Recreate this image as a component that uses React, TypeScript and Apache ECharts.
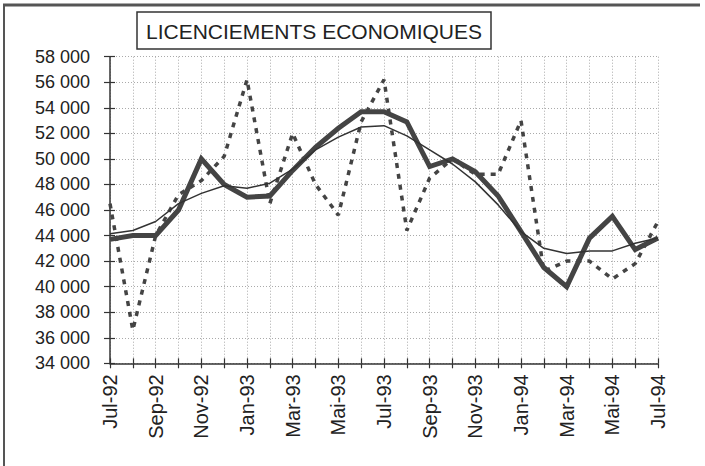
import React, { useEffect, useRef } from "react";
import * as echarts from "echarts";

const months = [
  "Jul-92", "Aoû-92", "Sep-92", "Oct-92", "Nov-92", "Déc-92",
  "Jan-93", "Fév-93", "Mar-93", "Avr-93", "Mai-93", "Jun-93",
  "Jul-93", "Aoû-93", "Sep-93", "Oct-93", "Nov-93", "Déc-93",
  "Jan-94", "Fév-94", "Mar-94", "Avr-94", "Mai-94", "Jun-94", "Jul-94",
];

// Raw monthly values (dotted)
const brut = [
  46500, 36600, 44000, 47200, 48300, 50200, 56200, 46500, 52000, 48000, 45600, 52900,
  56200, 44400, 48500, 50000, 48800, 48800, 53000, 41200, 42000, 42000, 40600, 41800, 45100,
];

// Smoothed values (thick)
const lisse = [
  43700, 44000, 44000, 46000, 50000, 48000, 47000, 47100, 49100, 50900, 52400, 53700,
  53700, 52900, 49400, 50000, 49000, 47100, 44300, 41500, 40000, 43800, 45500, 42900, 43800,
];

// Trend (thin)
const tendance = [
  44150, 44400, 45100, 46500, 47300, 47900, 47700, 48100, 49200, 50700, 51700, 52500,
  52600, 51800, 50700, 49600, 48200, 46400, 44300, 43000, 42600, 42800, 42800, 43400, 43800,
];

const titleText = "LICENCIEMENTS ECONOMIQUES";
const yMin = 34000;
const yMax = 58000;
const yStep = 2000;

const FONT = "'Liberation Sans', Arial, sans-serif";
const INK = "#222";
const LINE = "#444";

export default function App() {
  const ref = useRef<HTMLDivElement>(null);

  useEffect(() => {
    if (!ref.current) return;
    const chart = echarts.init(ref.current, null, { renderer: "svg" });
    const fmt = (v: number) => `${Math.round(v / 1000)} 000`;
    const gridLine = { show: true, lineStyle: { color: "#aaa", type: [1, 2] as any, width: 1 } };

    chart.setOption({
      animation: false,
      backgroundColor: "#fff",
      grid: { left: 110, right: 47, top: 56.7, bottom: 102.7, containLabel: false },
      xAxis: [
        {
          type: "category",
          data: months,
          boundaryGap: false,
          axisLine: { show: true, lineStyle: { color: "#333", width: 1.5 } },
          axisTick: { show: true, interval: 0, length: 5, lineStyle: { color: "#333", width: 1.2 } },
          axisLabel: {
            interval: 1,
            rotate: 90,
            margin: 11,
            color: INK,
            fontFamily: FONT,
            fontSize: 20,
          },
          splitLine: { ...gridLine, interval: 0 },
        },
        {
          type: "category",
          data: months,
          boundaryGap: false,
          position: "bottom",
          axisLine: { show: false },
          axisTick: { show: true, inside: true, interval: 0, length: 5, lineStyle: { color: "#333", width: 1.2 } },
          axisLabel: { show: false },
          splitLine: { show: false },
        },
      ],
      yAxis: [
        {
          type: "value",
          min: yMin,
          max: yMax,
          interval: yStep,
          axisLine: { show: true, lineStyle: { color: "#333", width: 1.5 } },
          axisTick: { show: true, length: 6, lineStyle: { color: "#333", width: 1.2 } },
          axisLabel: {
            formatter: fmt,
            margin: 20,
            color: INK,
            fontFamily: FONT,
            fontSize: 18,
          },
          splitLine: gridLine,
        },
        {
          type: "value",
          min: yMin,
          max: yMax,
          interval: yStep,
          position: "left",
          axisLine: { show: false },
          axisTick: { show: true, inside: true, length: 5, lineStyle: { color: "#333", width: 1.2 } },
          axisLabel: { show: false },
          splitLine: { show: false },
        },
      ],
      series: [
        {
          name: "Brut",
          type: "line",
          data: brut,
          symbol: "none",
          lineStyle: { color: LINE, width: 3.5, type: [5, 6] as any, cap: "butt" },
          z: 2,
        },
        {
          name: "Lissé",
          type: "line",
          data: lisse,
          symbol: "none",
          lineStyle: { color: LINE, width: 5, join: "miter" },
          z: 3,
        },
        {
          name: "Tendance",
          type: "line",
          data: tendance,
          symbol: "none",
          lineStyle: { color: "#333", width: 1.5 },
          z: 4,
        },
      ],
      graphic: [
        { type: "line", shape: { x1: 3, y1: 5, x2: 700, y2: 5 }, style: { stroke: "#555", lineWidth: 3 } },
        { type: "line", shape: { x1: 4, y1: 5, x2: 4, y2: 470 }, style: { stroke: "#555", lineWidth: 2 } },
        {
          type: "rect",
          shape: { x: 137, y: 12, width: 354, height: 37 },
          style: { fill: "#fff", stroke: "#333", lineWidth: 1.5 },
          z: 10,
        },
        {
          type: "text",
          x: 314,
          y: 31,
          style: {
            text: titleText,
            font: `21px ${FONT}`,
            fill: INK,
            align: "center",
            verticalAlign: "middle",
          },
          z: 11,
        },
      ],
    });

    return () => chart.dispose();
  }, []);

  return <div ref={ref} style={{ width: 705, height: 466, position: "absolute", left: 0, top: 0 }} />;
}
